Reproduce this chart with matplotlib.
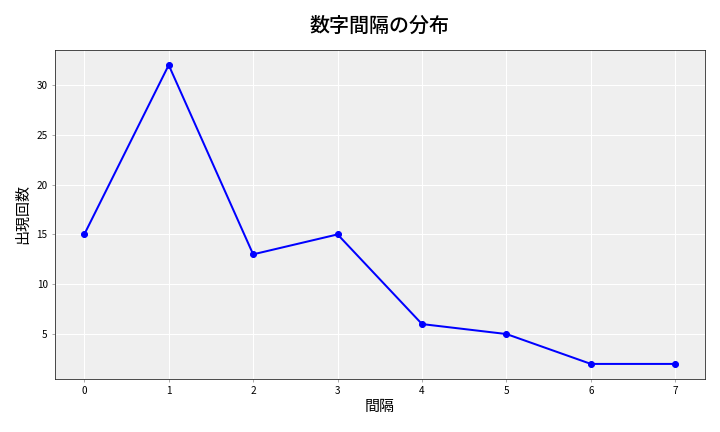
import matplotlib
matplotlib.use("Agg")
import matplotlib.pyplot as plt

plt.rcParams['font.family'] = ['Noto Sans CJK JP', 'DejaVu Sans']

intervals = [0, 1, 2, 3, 4, 5, 6, 7]
counts = [15, 32, 13, 15, 6, 5, 2, 2]

fig, ax = plt.subplots(figsize=(10, 6), dpi=72)
fig.subplots_adjust(left=0.076, right=0.979, top=0.884, bottom=0.123)
ax.set_facecolor('#efefef')
ax.plot(intervals, counts, color='blue', marker='o', linewidth=2, markersize=6)
ax.grid(True, color='white', linewidth=1)
ax.set_axisbelow(True)
ax.tick_params(length=3, width=0.8, color='#999999', labelsize=10, pad=4)
ax.set_title('数字間隔の分布', fontsize=20, fontweight='medium', pad=18)
ax.set_xlabel('間隔', fontsize=15, labelpad=4)
ax.set_ylabel('出現回数', fontsize=15, labelpad=6)
for s in ax.spines.values():
    s.set_color('#222222')
fig.savefig('out.png', dpi=72)
